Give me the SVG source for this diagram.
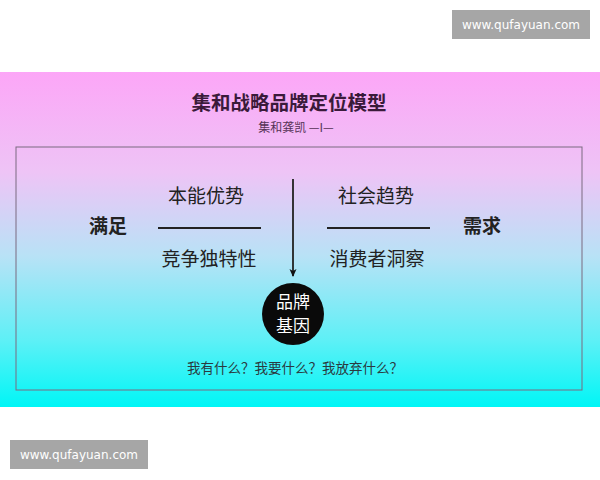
<svg xmlns="http://www.w3.org/2000/svg" width="600" height="480" viewBox="0 0 600 480">
<defs>
<linearGradient id="bg" x1="0" y1="0" x2="0" y2="1">
<stop offset="0" stop-color="#fca6f7"/>
<stop offset="0.3" stop-color="#eec4f6"/>
<stop offset="0.55" stop-color="#b8e2f6"/>
<stop offset="0.8" stop-color="#5ef0f6"/>
<stop offset="1" stop-color="#00f6f6"/>
</linearGradient>
<marker id="arr" markerWidth="8" markerHeight="8" refX="7" refY="4" orient="auto" markerUnits="userSpaceOnUse">
<path d="M0,0.5 L8,4 L0,7.5 L2,4 Z" fill="#111"/>
</marker>
<style>
.cjk{font-family:"Noto Sans CJK SC","Noto Sans",sans-serif;text-anchor:middle;fill:#222}
.lbl{font-size:19px}
.side{font-size:19px;font-weight:bold}
.wm rect{fill:#a6a6a6}
.wm text{font-family:"DejaVu Sans","Liberation Sans",sans-serif;font-size:12px;fill:#fff;text-anchor:middle}
</style>
</defs>
<rect width="600" height="480" fill="#fff"/>
<rect x="0" y="72" width="600" height="335" fill="url(#bg)"/>
<g id="title">
<text class="cjk" x="289" y="110" style="font-size:19.5px;font-weight:bold;fill:#3a1a3a">集和战略品牌定位模型</text>
<text class="cjk" x="296" y="132" style="font-size:12px;fill:#553355">集和龚凯 —I—</text>
</g>
<rect id="frame" x="16" y="147" width="566" height="243" fill="none" stroke="#7a6a80" stroke-width="1"/>
<g id="left">
<text class="cjk side" x="108" y="233">满足</text>
<text class="cjk lbl" x="206" y="203">本能优势</text>
<text class="cjk lbl" x="209" y="266">竞争独特性</text>
</g>
<g id="right">
<text class="cjk side" x="482" y="233">需求</text>
<text class="cjk lbl" x="376" y="203">社会趋势</text>
<text class="cjk lbl" x="377" y="266">消费者洞察</text>
</g>
<g id="connectors" stroke="#222" stroke-width="2" fill="none">
<line x1="158" y1="228" x2="261" y2="228"/>
<line x1="327" y1="228" x2="430" y2="228"/>
<line x1="293" y1="179" x2="293" y2="276" stroke-width="1.8" marker-end="url(#arr)"/>
</g>
<g id="gene">
<circle cx="293" cy="314" r="31" fill="#0a0a0a"/>
<text class="cjk" x="293" y="308" style="font-size:17px;fill:#fff">品牌</text>
<text class="cjk" x="293" y="332" style="font-size:17px;fill:#fff">基因</text>
</g>
<text id="question" class="cjk" x="295" y="373" style="font-size:13.5px;fill:#2a3a40">我有什么？我要什么？我放弃什么？</text>
<g class="wm" id="wm1">
<rect x="452" y="10" width="138" height="29"/>
<text x="521" y="29">www.qufayuan.com</text>
</g>
<g class="wm" id="wm2">
<rect x="10" y="440" width="138" height="29"/>
<text x="79" y="459">www.qufayuan.com</text>
</g>
</svg>
